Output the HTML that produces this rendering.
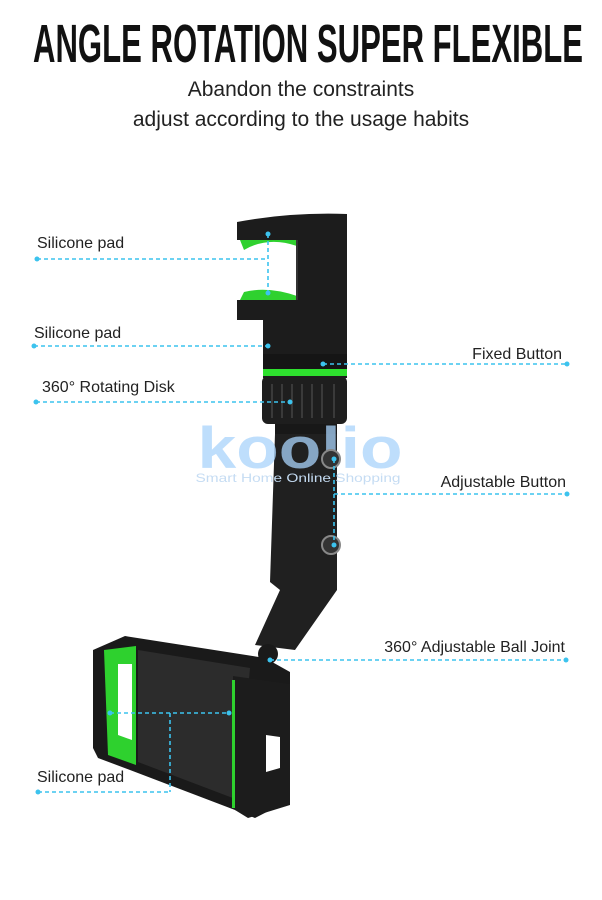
<!DOCTYPE html>
<html><head><meta charset="utf-8"><style>
html,body{margin:0;padding:0;background:#fff}
svg{display:block}
</style></head><body>
<svg width="602" height="900" viewBox="0 0 602 900" xmlns="http://www.w3.org/2000/svg" font-family="Liberation Sans, sans-serif">
<rect width="602" height="900" fill="#fff"/>
<text x="33" y="62" font-size="54" font-weight="bold" textLength="550" lengthAdjust="spacingAndGlyphs" fill="#111">ANGLE ROTATION SUPER FLEXIBLE</text>
<text x="301" y="96" font-size="21" text-anchor="middle" fill="#222">Abandon the constraints</text>
<text x="301" y="126" font-size="21" text-anchor="middle" fill="#222">adjust according to the usage habits</text>

<!-- top clamp -->
<path d="M237 222 Q290 212 347 214 L347 378 L263 378 L263 320 L237 320 L237 300 L297 300 L297 240 L237 240 Z" fill="#1c1c1c"/>
<path d="M240 240 L297 240 L297 246 Q268 236 244 250 Z" fill="#2fd12f"/>
<path d="M240 300 L297 300 L297 296 Q268 286 244 292 Z" fill="#2fd12f"/>
<line x1="297" y1="240" x2="297" y2="300" stroke="#333" stroke-width="2"/>
<rect x="263" y="354" width="84" height="16" fill="#151515"/>
<rect x="263" y="369" width="84" height="7" fill="#2ee02e"/>
<rect x="262" y="376" width="85" height="48" rx="6" fill="#1e1e1e"/>
<g stroke="#3a3a3a" stroke-width="2">
<line x1="272" y1="384" x2="272" y2="418"/><line x1="282" y1="384" x2="282" y2="418"/><line x1="292" y1="384" x2="292" y2="418"/><line x1="302" y1="384" x2="302" y2="418"/><line x1="312" y1="384" x2="312" y2="418"/><line x1="322" y1="384" x2="322" y2="418"/><line x1="334" y1="384" x2="334" y2="418"/>
</g>
<rect x="275" y="424" width="62" height="10" fill="#181818"/>
<!-- arm -->
<path d="M275 434 L337 434 L337 590 L295 650 L255 645 L280 590 L270 582 Z" fill="#202020"/>
<!-- watermark -->
<text x="300" y="468" font-size="58" font-weight="bold" text-anchor="middle" fill="#a9d3fb" opacity="0.75" textLength="205" lengthAdjust="spacingAndGlyphs">koolio</text>
<text x="298" y="482" font-size="12" text-anchor="middle" fill="#c5dcf3" textLength="205" lengthAdjust="spacingAndGlyphs">Smart Home Online Shopping</text>
<circle cx="331" cy="459" r="9" fill="#333" stroke="#888" stroke-width="2"/>
<circle cx="331" cy="545" r="9" fill="#333" stroke="#888" stroke-width="2"/>
<circle cx="268" cy="654" r="10" fill="#1a1a1a"/>
<!-- bottom holder -->
<path d="M125 636 L265 658 L290 672 L290 800 L255 818 L235 810 L130 770 L98 758 L93 748 L93 650 Z" fill="#1a1a1a"/>
<path d="M138 650 L250 668 L238 800 L138 762 Z" fill="#2c2c2c"/>
<path d="M104 650 L136 646 L136 765 L108 755 Z" fill="#2ed12e"/>
<path d="M118 664 L132 664 L132 740 L118 735 Z" fill="#fff"/>
<path d="M233 676 L290 684 L290 805 L248 818 L235 810 Z" fill="#1c1c1c"/>
<rect x="232" y="680" width="3" height="128" fill="#2ed12e"/>
<path d="M266 735 L280 737 L280 768 L266 772 Z" fill="#fff"/>

<!-- labels -->
<g font-size="16" fill="#222">
<text x="37" y="248">Silicone pad</text>
<text x="34" y="338">Silicone pad</text>
<text x="562" y="359" text-anchor="end">Fixed Button</text>
<text x="42" y="392">360° Rotating Disk</text>
<text x="566" y="487" text-anchor="end">Adjustable Button</text>
<text x="565" y="652" text-anchor="end">360° Adjustable Ball Joint</text>
<text x="37" y="782">Silicone pad</text>
</g>
<g stroke="#3cc3ee" stroke-width="1.6" stroke-dasharray="4 3" fill="none">
<path d="M37 259 H268 M268 234 V293"/>
<path d="M34 346 H268"/>
<path d="M323 364 H567"/>
<path d="M36 402 H290"/>
<path d="M334 459 V545 M334 494 H567"/>
<path d="M270 660 H566"/>
<path d="M110 713 H229 M170 713 V792 M38 792 H170"/>
</g>
<g fill="#3cc3ee">
<circle cx="37" cy="259" r="2.5"/><circle cx="268" cy="234" r="2.5"/><circle cx="268" cy="293" r="2.5"/>
<circle cx="34" cy="346" r="2.5"/><circle cx="268" cy="346" r="2.5"/>
<circle cx="323" cy="364" r="2.5"/><circle cx="567" cy="364" r="2.5"/>
<circle cx="36" cy="402" r="2.5"/><circle cx="290" cy="402" r="2.5"/>
<circle cx="334" cy="459" r="2.5"/><circle cx="334" cy="545" r="2.5"/><circle cx="567" cy="494" r="2.5"/>
<circle cx="270" cy="660" r="2.5"/><circle cx="566" cy="660" r="2.5"/>
<circle cx="110" cy="713" r="2.5"/><circle cx="229" cy="713" r="2.5"/><circle cx="38" cy="792" r="2.5"/>
</g>
</svg>
</body></html>
